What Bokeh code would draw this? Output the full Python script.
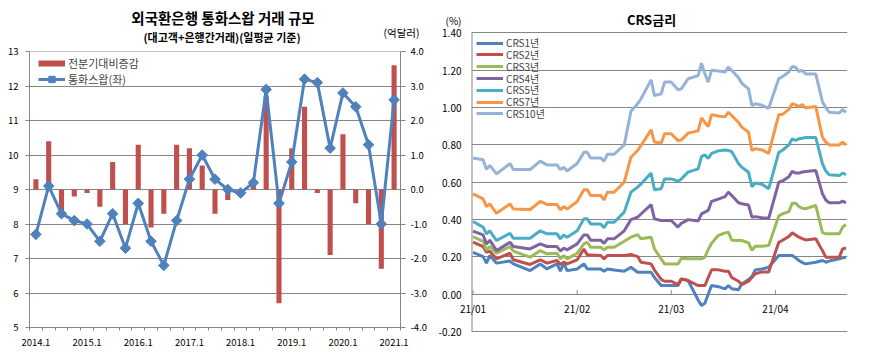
import pandas as pd
from bokeh.plotting import figure
from bokeh.layouts import row, column
from bokeh.models import (Range1d, LinearAxis, FixedTicker, NumeralTickFormatter,
                          Legend, LegendItem, Label)
from bokeh.embed import file_html
from bokeh.resources import INLINE

FONT = "Noto Sans CJK KR"
GRAY = "#868686"
RED = "#C0504D"
BLUE = "#4F81BD"
NAN = float("nan")

# ---------------- left chart data ----------------
quarters = ["2014.1", "2014.2", "2014.3", "2014.4",
            "2015.1", "2015.2", "2015.3", "2015.4",
            "2016.1", "2016.2", "2016.3", "2016.4",
            "2017.1", "2017.2", "2017.3", "2017.4",
            "2018.1", "2018.2", "2018.3", "2018.4",
            "2019.1", "2019.2", "2019.3", "2019.4",
            "2020.1", "2020.2", "2020.3", "2020.4",
            "2021.1"]
swap_volume = [7.7, 9.1, 8.3, 8.1, 8.0, 7.5, 8.3, 7.3, 8.6, 7.5, 6.8, 8.1,
               9.3, 10.0, 9.3, 9.0, 8.9, 9.2, 11.9, 8.6, 9.8, 12.2, 12.1, 10.2,
               11.8, 11.4, 10.3, 8.0, 11.6]
qoq_change = [0.3, 1.4, -0.8, -0.2, -0.1, -0.5, 0.8, -1.0, 1.3, -1.1, -0.7, 1.3,
              1.2, 0.7, -0.7, -0.3, -0.1, 0.2, 2.7, -3.3, 1.2, 2.4, -0.1, -1.9,
              1.6, -0.4, -1.0, -2.3, 3.6]
left_ticks = ["2014.1", "2015.1", "2016.1", "2017.1", "2018.1", "2019.1", "2020.1", "2021.1"]

# ---------------- right chart data ----------------
crs_dates = ["01-01", "01-04", "01-05", "01-06", "01-08", "01-12", "01-13", "01-18",
             "01-21", "01-23", "01-26", "01-27", "01-28", "01-29", "02-01", "02-03",
             "02-04", "02-05", "02-08", "02-09", "02-10", "02-12", "02-15", "02-17",
             "02-19", "02-20", "02-23", "02-24", "02-26", "02-27", "03-01", "03-03",
             "03-04", "03-06", "03-09", "03-10", "03-11", "03-12", "03-13", "03-15",
             "03-17", "03-18", "03-19", "03-21", "03-22", "03-24", "03-25", "03-26",
             "03-28", "03-30", "04-02", "04-03", "04-05", "04-06", "04-07", "04-08",
             "04-09", "04-10", "04-13", "04-15", "04-16", "04-17", "04-20", "04-21",
             "04-22"]
crs1 = [0.225, 0.202, 0.167, 0.208, 0.167, 0.178, 0.163, 0.127, 0.163, 0.136,
        0.163, 0.124, 0.167, 0.127, 0.136, 0.163, 0.136, 0.136, 0.136, 0.124,
        0.136, 0.13, 0.124, 0.145, 0.118, 0.118, 0.118, 0.09, 0.047, 0.047,
        0.047, 0.047, 0.083, 0.074, -0.03, -0.06, -0.048, 0.0, 0.047, 0.041,
        0.029, 0.047, 0.03, 0.024, 0.056, 0.08, 0.095, 0.131, 0.136, 0.145,
        0.208, 0.208, 0.208, 0.208, 0.195, 0.181, 0.17, 0.163, 0.172, 0.181,
        0.172, 0.178, 0.19, 0.195, 0.199]
crs2 = [0.279, 0.256, 0.226, 0.231, 0.19, 0.22, 0.185, 0.16, 0.185, 0.167,
        0.181, 0.16, 0.172, 0.163, 0.185, 0.243, 0.211, 0.211, 0.208, 0.19,
        0.208, 0.208, 0.208, 0.213, 0.202, 0.172, 0.163, 0.13, 0.08, 0.07,
        0.07, 0.052, 0.083, 0.074, 0.047, 0.047, 0.047, 0.09, 0.131, 0.131,
        0.124, 0.124, 0.09, 0.07, 0.052, 0.07, 0.09, 0.11, 0.12, 0.12,
        0.279, 0.288, 0.31, 0.329, 0.318, 0.306, 0.298, 0.291, 0.297, 0.234,
        0.199, 0.199, 0.199, 0.243, 0.248]
crs3 = [0.309, 0.284, 0.238, 0.256, 0.22, 0.256, 0.231, 0.199, 0.234, 0.217,
        0.22, 0.19, 0.208, 0.19, 0.22, 0.27, 0.279, 0.252, 0.252, 0.238,
        0.252, 0.252, 0.284, 0.306, 0.32, 0.297, 0.306, 0.243, 0.19, 0.163,
        0.163, 0.163, 0.193, 0.19, 0.19, 0.19, 0.199, 0.24, 0.273, 0.315,
        0.329, 0.333, 0.29, 0.288, 0.288, 0.275, 0.235, 0.258, 0.258, 0.261,
        0.42, 0.43, 0.443, 0.488, 0.488, 0.47, 0.461, 0.458, 0.476, 0.33,
        0.324, 0.324, 0.324, 0.36, 0.374]
crs4 = [0.338, 0.318, 0.27, 0.29, 0.234, 0.279, 0.256, 0.243, 0.27, 0.256,
        0.256, 0.231, 0.247, 0.238, 0.27, 0.318, 0.318, 0.29, 0.29, 0.273,
        0.297, 0.297, 0.34, 0.40, 0.413, 0.43, 0.48, 0.404, 0.395, 0.395,
        0.395, 0.36, 0.38, 0.40, 0.392, 0.431, 0.44, 0.449, 0.498, 0.51,
        0.523, 0.547, 0.529, 0.49, 0.485, 0.478, 0.413, 0.416, 0.41, 0.407,
        0.60, 0.606, 0.63, 0.658, 0.649, 0.649, 0.655, 0.658, 0.663, 0.538,
        0.505, 0.49, 0.49, 0.499, 0.49]
crs5 = [0.39, 0.36, 0.324, 0.34, 0.288, 0.327, 0.30, 0.30, 0.34, 0.324,
        0.324, 0.297, 0.318, 0.306, 0.34, 0.404, 0.404, 0.377, 0.377, 0.356,
        0.386, 0.386, 0.44, 0.547, 0.574, 0.591, 0.649, 0.56, 0.565, 0.618,
        0.618, 0.606, 0.618, 0.654, 0.672, 0.739, 0.746, 0.728, 0.755, 0.768,
        0.773, 0.77, 0.764, 0.70, 0.68, 0.654, 0.576, 0.596, 0.589, 0.565,
        0.76, 0.77, 0.80, 0.833, 0.824, 0.833, 0.836, 0.84, 0.84, 0.698,
        0.66, 0.64, 0.636, 0.649, 0.64]
crs7 = [0.538, 0.511, 0.47, 0.484, 0.434, 0.484, 0.457, 0.454, 0.497, 0.481,
        0.481, 0.452, 0.47, 0.456, 0.497, 0.56, 0.56, 0.529, 0.529, 0.506,
        0.547, 0.547, 0.60, 0.734, 0.77, 0.797, 0.88, 0.815, 0.81, 0.86,
        0.86, 0.823, 0.826, 0.863, 0.875, 0.944, 0.92, 0.898, 0.962, 0.955,
        0.95, 0.975, 0.957, 0.92, 0.895, 0.868, 0.77, 0.78, 0.773, 0.755,
        0.962, 0.962, 0.99, 1.02, 1.014, 1.005, 1.016, 0.998, 1.005, 0.84,
        0.815, 0.80, 0.80, 0.815, 0.80]
crs10 = [0.73, 0.72, 0.67, 0.69, 0.645, 0.70, 0.668, 0.668, 0.713, 0.693,
         0.693, 0.668, 0.68, 0.66, 0.70, 0.76, 0.76, 0.73, 0.73, 0.713,
         0.75, 0.75, 0.80, 0.98, 1.02, 1.047, 1.148, 1.064, 1.073, 1.136,
         1.136, 1.095, 1.10, 1.154, 1.171, 1.237, 1.18, 1.136, 1.20, 1.195,
         1.19, 1.216, 1.198, 1.16, 1.13, 1.10, 1.01, 1.02, 1.012, 0.996,
         1.155, 1.165, 1.19, 1.22, 1.216, 1.193, 1.198, 1.18, 1.18, 1.03,
         1.0, 0.975, 0.971, 0.989, 0.975]
crs_names = ["CRS1년", "CRS2년", "CRS3년", "CRS4년", "CRS5년", "CRS7년", "CRS10년"]
crs_colors = ["#4F81BD", "#C0504D", "#9BBB59", "#8064A2", "#4BACC6", "#F79646", "#95B3D7"]
crs_ticks = [-0.2, 0.0, 0.2, 0.4, 0.6, 0.8, 1.0, 1.2, 1.4]
month_ticks = ["01-01", "02-01", "03-01", "04-01"]
month_labels = ["21/01", "21/02", "21/03", "21/04"]

BASE = pd.Timestamp("2021-01-01")


def day_of(md):
    return float((pd.Timestamp("2021-" + md) - BASE).days)


crs_x = [day_of(d) for d in crs_dates]
tick_x = [day_of(d) for d in month_ticks]


def style_axis(ax, size="9.5px"):
    ax.axis_line_color = GRAY
    ax.major_tick_line_color = GRAY
    ax.minor_tick_line_color = GRAY
    ax.major_label_text_font = FONT
    ax.major_label_text_font_size = size
    ax.major_label_text_color = "#000000"


def header(width, height):
    h = figure(width=width, height=height, output_backend="svg", toolbar_location=None,
               title=None, x_range=Range1d(0, width), y_range=Range1d(height, 0),
               x_axis_location=None, y_axis_location=None,
               min_border_left=0, min_border_right=0, min_border_top=0,
               min_border_bottom=0)
    h.grid.visible = False
    h.outline_line_color = None
    return h


def put(fig, x, y, text, size, bold=False):
    fig.add_layout(Label(x=x, y=y, text=text, text_align="center",
                         text_baseline="middle", text_font=FONT,
                         text_font_size=size,
                         text_font_style="bold" if bold else "normal",
                         text_color="#000000"))


# ================= left header =================
h1 = header(434, 44)
put(h1, 222.5, 17, "외국환은행 통화스왑 거래 규모", "14.5px", True)
put(h1, 221.5, 36, "(대고객+은행간거래)(일평균 기준)", "11px", True)
put(h1, 401, 32, "(억달러)", "10.5px")

# ================= left chart =================
p1 = figure(width=434, height=311, output_backend="svg", toolbar_location=None,
            title=None, x_range=Range1d(-0.5, 28.5), y_range=Range1d(5, 13.002),
            min_border_left=29, min_border_right=34, min_border_top=7,
            min_border_bottom=28)
p1.outline_line_color = None
p1.extra_y_ranges = {"chg": Range1d(-4, 4.002)}

qx = list(range(len(quarters)))
p1.vbar(x=qx, top=qoq_change, bottom=0, width=0.4, y_range_name="chg",
        fill_color=RED, line_color=None)
ln = p1.line(qx, swap_volume, line_color=BLUE, line_width=3)
mk = p1.scatter(qx, swap_volume, marker="square", angle=0.785398, size=7.5,
                fill_color=BLUE, line_color=BLUE)
proxy = p1.line(qx, [NAN] * len(qx), line_color=RED, line_width=6)

xa = p1.xaxis[0]
xa.ticker = FixedTicker(ticks=[quarters.index(t) for t in left_ticks],
                        minor_ticks=[i - 0.5 for i in range(len(quarters) + 1)])
xa.major_label_overrides = {quarters.index(t): t for t in left_ticks}
style_axis(xa)
xa.major_tick_out = 0
xa.major_tick_in = 0
xa.minor_tick_out = 3
xa.minor_tick_in = 0
xa.major_label_standoff = 8

ya = p1.yaxis[0]
ya.ticker = FixedTicker(ticks=list(range(5, 14)))
style_axis(ya)
ya.major_tick_out = 4
ya.major_tick_in = 0
ya.minor_tick_out = 0
ya.minor_tick_in = 0
ya.major_label_standoff = 7

ra = LinearAxis(y_range_name="chg", ticker=FixedTicker(ticks=list(range(-4, 5))),
                formatter=NumeralTickFormatter(format="0.0"))
style_axis(ra)
ra.major_tick_out = 5
ra.major_tick_in = 0
ra.minor_tick_out = 0
ra.minor_tick_in = 0
ra.major_label_standoff = 5
p1.add_layout(ra, "right")

p1.xgrid.visible = False
p1.ygrid.ticker = FixedTicker(ticks=list(range(6, 14)))
p1.ygrid.grid_line_color = GRAY

leg1 = Legend(items=[LegendItem(label="전분기대비증감", renderers=[proxy]),
                     LegendItem(label="통화스왑(좌)", renderers=[ln, mk])],
              location=(9, 240), orientation="vertical",
              label_text_font=FONT, label_text_font_size="11px",
              label_height=16, glyph_height=16, glyph_width=27, spacing=0,
              padding=0, margin=0, label_standoff=3,
              background_fill_alpha=0, border_line_color=None)
p1.add_layout(leg1)

# ================= right chart (single figure, frame reaches the top) =================
P2_H = 339
P2_BOTTOM = 7
X0, X1 = -0.45, 111.45
frame_bottom = P2_H - P2_BOTTOM
px_per_unit = (331.2 - 32.3) / (crs_ticks[-1] - crs_ticks[0])
y_lo = crs_ticks[0] - (frame_bottom - 331.2) / px_per_unit
y_hi = crs_ticks[-1] + 32.3 / px_per_unit
PCT_TICK = 1.465  # position of the "(%)" unit note on the value axis

p2 = figure(width=419, height=P2_H, output_backend="svg", toolbar_location=None,
            title=None, x_range=Range1d(X0, X1), y_range=Range1d(y_lo, y_hi),
            min_border_left=37, min_border_right=6, min_border_top=0,
            min_border_bottom=P2_BOTTOM)
p2.outline_line_color = None

series = [crs1, crs2, crs3, crs4, crs5, crs7, crs10]
renderers = []
for name, col, vals in zip(crs_names, crs_colors, series):
    renderers.append(p2.line(crs_x, vals, line_color=col, line_width=3))

yb = p2.yaxis[0]
yb.ticker = FixedTicker(ticks=crs_ticks + [PCT_TICK])
yb.formatter = NumeralTickFormatter(format="0.00")
yb.major_label_overrides = {PCT_TICK: "(%)"}
style_axis(yb, "10px")
yb.axis_line_color = None
yb.major_tick_out = 0
yb.major_tick_in = 0
yb.minor_tick_out = 0
yb.minor_tick_in = 0
yb.major_label_standoff = 10

# value-axis line, only over the -0.20 .. 1.40 span
p2.segment(x0=[X0], y0=[crs_ticks[0]], x1=[X0], y1=[crs_ticks[-1]],
           line_color=GRAY, line_width=2)

xb = p2.xaxis[0]
xb.ticker = FixedTicker(ticks=tick_x)
xb.major_label_overrides = {t: lab for t, lab in zip(tick_x, month_labels)}
style_axis(xb, "10px")
xb.axis_line_color = None
xb.major_tick_out = 0
xb.major_tick_in = 0
xb.minor_tick_out = 0
xb.minor_tick_in = 0
xb.major_label_standoff = -32

p2.xgrid.visible = False
p2.ygrid.ticker = FixedTicker(ticks=crs_ticks)
p2.ygrid.grid_line_color = GRAY

# small upward tick marks on the zero line at each month start
p2.segment(x0=tick_x, y0=[0.0] * len(tick_x), x1=tick_x, y1=[0.022] * len(tick_x),
           line_color=GRAY, line_width=1)


def r2x(xr):
    return X0 + (xr - 471) * (X1 - X0) / 376


def r2y(yr):
    return y_hi - yr / px_per_unit


p2.add_layout(Label(x=r2x(651), y=r2y(19), text="CRS금리", text_align="center",
                    text_baseline="middle", text_font=FONT, text_font_size="13px",
                    text_font_style="bold", text_color="#000000"))

# one single-item legend per series, stacked at the reference's 11.8px pitch
for i, (name, r) in enumerate(zip(crs_names, renderers)):
    centre_from_top = 42.7 + 11.8 * i
    leg = Legend(items=[LegendItem(label=name, renderers=[r])],
                 location=(5, frame_bottom - centre_from_top - 7.4),
                 orientation="vertical",
                 label_text_font=FONT, label_text_font_size="10px",
                 label_height=12, glyph_height=12, glyph_width=27, spacing=0,
                 padding=0, margin=0, label_standoff=3,
                 background_fill_alpha=0, border_line_color=None)
    p2.add_layout(leg)

layout = row(column(column(h1), column(p1)), p2)
open("out.html", "w").write(file_html(layout, INLINE))
